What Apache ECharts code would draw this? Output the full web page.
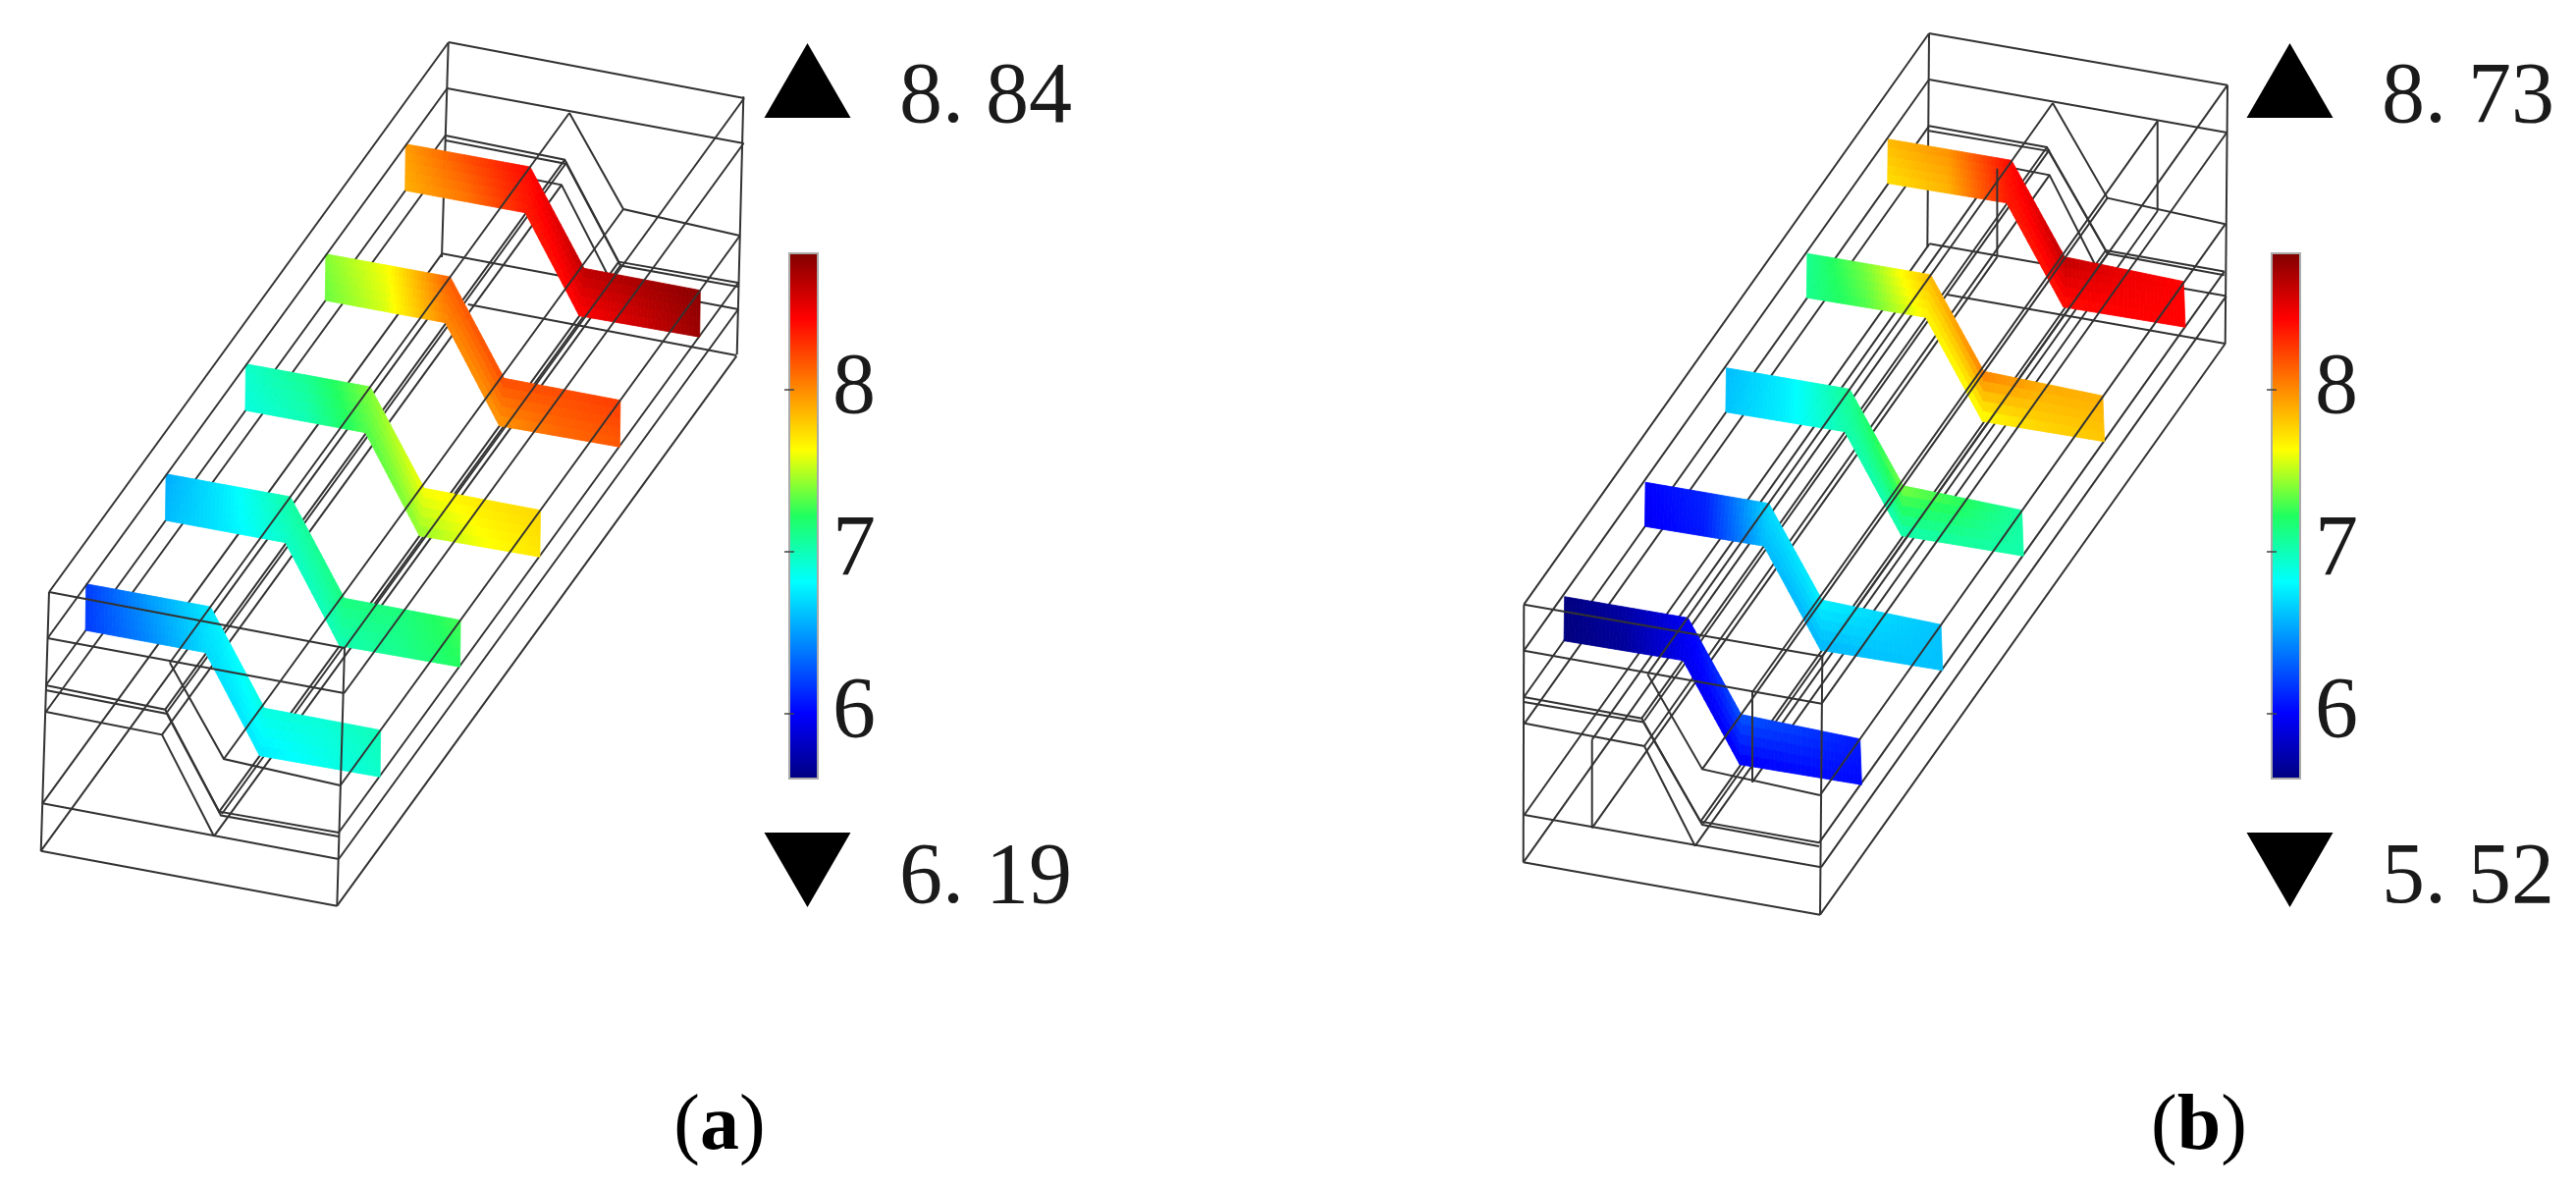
<!DOCTYPE html>
<html><head><meta charset="utf-8">
<style>html,body{margin:0;padding:0;background:#fff}#c{width:2624px;height:1209px}</style>
<script src="https://cdn.jsdelivr.net/npm/echarts@6/dist/echarts.min.js"></script>
</head><body><div id="c"></div>
<script>
// ---------- colour scale ----------
const scaleMin = 5.6, scaleMax = 8.84;
const colourTicks = [6, 7, 8];
const jetStops = [[0,'#00007f'],[0.125,'#0000ff'],[0.375,'#00ffff'],[0.5,'#20ff60'],[0.625,'#ffff00'],[0.875,'#ff0000'],[1,'#7f0000']];
// ---------- min / max readouts ----------
const readouts = [
  {x:916,y:101,text:'8. 84'},{x:916,y:896,text:'6. 19'},
  {x:2426,y:101,text:'8. 73'},{x:2426,y:896,text:'5. 52'}];
const upMarks = [[822.5,82],[2332.5,82]];
const downMarks = [[822.5,886],[2332.5,886]];
const captions = [{x:733,y:1149,letter:'a'},{x:2240,y:1149,letter:'b'}];
// ---------- ribbon outlines, panel a / b (picture units) ----------
const aRibbonTop = [[413.3,146.7],[540,170],[595,273.3],[713.3,295.7]];
const aRibbonBottom = [[412.7,194],[535,216.7],[590,321.7],[712.7,343.3]];
const aRibbonStep = [-81.4,112];
const bRibbonTop = [[1923.3,141.7],[2049,163.3],[2103.3,261.7],[2224.3,286.7]];
const bRibbonBottom = [[1922.7,186.7],[2044,206.7],[2101.7,312.7],[2226,333.3]];
const bRibbonStep = [-82.4,116.5];
// ---------- ribbon temperatures: top row, bottom row; back ribbon first ----------
const aRibbonValues = [
  [[7.94,8.2,8.42,8.65,8.72,8.8],[7.88,8.05,8.35,8.42,8.58,8.75]],
  [[7.4,7.62,8.15,8.2,8.2,8.25],[7.35,7.55,8.0,7.95,8.1,8.15]],
  [[6.95,7.1,7.4,7.62,7.7,7.75],[6.9,7.0,7.3,7.42,7.6,7.7]],
  [[6.55,6.77,7.05,7.15,7.15,7.28],[6.6,6.75,6.95,7.0,7.1,7.22]],
  [[6.19,6.5,6.75,6.9,6.92,7.0],[6.19,6.42,6.7,6.75,6.85,6.95]]];
const bRibbonValues = [
  [[7.85,7.98,8.42,8.65,8.5,8.43],[7.72,7.85,8.35,8.38,8.43,8.43]],
  [[7.1,7.4,7.85,8.05,7.9,7.88],[7.1,7.3,7.65,7.6,7.75,7.8]],
  [[6.6,6.77,7.1,7.4,7.25,7.05],[6.63,6.77,7.02,7.0,7.05,7.03]],
  [[6.0,6.12,6.7,6.78,6.7,6.62],[5.97,6.08,6.6,6.58,6.62,6.62]],
  [[5.6,5.72,5.98,6.28,6.2,6.08],[5.6,5.68,5.95,5.98,6.02,6.03]]];
// ---------- wireframe, panel a ----------
const aDepth = [407,-560];
const aUpperLoops = [
  [[50,603],[351,660]], [[48.5,650],[350.5,706]], [[173,675],[228,773],[346.7,800]]];
const aUpperPosts = [[[351,660],[343.3,922.7]],[[757.3,98.3],[750.7,361]],[[50,603],[41.7,867]]];
const aUpperRails = [[50,603],[48.5,650],[173,675],[228,773],[346.7,800],[351,660],[350.5,706]];
const aLowerLoops = [
  [[46.7,698],[168.3,722.7],[223.3,826.7],[345,848]],
  [[46.7,703],[170,727],[225,830.5],[345,852]],
  [[46.7,725],[165,748.3],[218,851.7]],
  [[43.3,818.3],[345,875]]];
const aFrontEdge = [[[41.7,866.7],[343.3,922.7]]];
const aBackEdge = [[[476.7,310],[750.3,362]],[[456.7,44],[450,262]]];
const aLowerRails = [[46.7,698],[168.3,722.7],[170.5,725],[223.3,826.7],[226,829],[345,848],[46.7,725],[165,748.3],[218,851.7],[43.3,818.3],[345,875],[41.7,866.7],[343.3,922.7]];
// ---------- wireframe, panel b ----------
const bDepth = [412.7,-581.7];
const bUpperLoops = [
  [[1552.3,615.7],[1856.3,668.4]], [[1552.3,662.7],[1855.6,716.7]], [[1678.3,686.7],[1734,783.4],[1854,810]]];
const bUpperPosts = [[[1856.3,668.4],[1854,931.7]],[[2269,86.7],[2266.7,350]],[[1552.3,615.7],[1551.7,878.3]],
  [[1621.7,753.3],[1621.7,843.3]],[[1785,705],[1785,796.7]],[[2034.4,171.6],[2034.4,261.6]],[[2197.7,123.3],[2197.7,215]]];
const bUpperRails = [[1552.3,615.7],[1552.3,662.7],[1678.3,686.7],[1734,783.4],[1854,810],[1856.3,668.4],[1855.6,716.7],[1785,705]];
const bLowerLoops = [
  [[1552.3,710],[1672.3,731.7],[1732.3,836.7],[1853,858.3]],
  [[1552.3,715],[1674,735.5],[1734,840],[1853,862]],
  [[1553,736.7],[1675,760],[1726.7,861.7]],
  [[1552.7,830],[1855,883.3]]];
const bFrontEdge = [[[1551.7,878.3],[1854,931.7]]];
const bBackEdge = [[[1983,300],[2266.7,350]],[[1965,34],[1963.3,252]]];
const bLowerRails = [[1552.3,710],[1672.3,731.7],[1675,734],[1732.3,836.7],[1735,839],[1853,858.3],[1553,736.7],[1675,760],[1726.7,861.7],[1552.7,830],[1855,883.3],[1551.7,878.3],[1854,931.7],
  [1621.7,753.3],[1621.7,843.3],[1785,796.7]];

// ---------- helpers ----------
function parse(h){return [1,3,5].map(i=>parseInt(h.substr(i,2),16));}
function jet(v){
  const t=Math.max(0,Math.min(1,(v-scaleMin)/(scaleMax-scaleMin)));
  for(let i=1;i<jetStops.length;i++){
    if(t<=jetStops[i][0]){
      const a=jetStops[i-1],b=jetStops[i],f=(t-a[0])/(b[0]-a[0]);
      const ca=parse(a[1]),cb=parse(b[1]);
      return 'rgb('+ca.map((c,k)=>Math.round(c+(cb[k]-c)*f)).join(',')+')';
    }
  }
  return jetStops[jetStops.length-1][1];
}
const mid=(p,q)=>[(p[0]+q[0])/2,(p[1]+q[1])/2];
const lerp=(p,q,f)=>[p[0]+(q[0]-p[0])*f,p[1]+(q[1]-p[1])*f];
function columns(line){return [line[0],mid(line[0],line[1]),line[1],line[2],mid(line[2],line[3]),line[3]];}

function buildWires(loops,posts,rails,depth){
  const out=[];
  loops.forEach(l=>{out.push(l);out.push(l.map(p=>[p[0]+depth[0],p[1]+depth[1]]));});
  posts.forEach(l=>out.push(l));
  rails.forEach(p=>out.push([p,[p[0]+depth[0],p[1]+depth[1]]]));
  return out;
}
const upperWires=[...buildWires(aUpperLoops,aUpperPosts,aUpperRails,aDepth),...buildWires(bUpperLoops,bUpperPosts,bUpperRails,bDepth)];
const lowerWires=[...buildWires(aLowerLoops,[],aLowerRails,aDepth),...aFrontEdge,...aBackEdge,
  ...buildWires(bLowerLoops,[],bLowerRails,bDepth),...bFrontEdge,...bBackEdge];

const ribbons=[];
function addRibbons(top,bottom,step,values){
  values.forEach((v,r)=>{
    const sh=l=>l.map(p=>[p[0]+step[0]*r,p[1]+step[1]*r]);
    ribbons.push({top:columns(sh(top)),bottom:columns(sh(bottom)),vTop:v[0],vBottom:v[1]});
  });
}
addRibbons(aRibbonTop,aRibbonBottom,aRibbonStep,aRibbonValues);
addRibbons(bRibbonTop,bRibbonBottom,bRibbonStep,bRibbonValues);

function wireSeries(list,z,colour,width){
  return {type:'custom',coordinateSystem:'cartesian2d',xAxisIndex:0,yAxisIndex:0,z,silent:true,clip:false,
    data:list.map((l,i)=>[l[0][0],l[0][1],i]),
    renderItem(p,api){
      const pts=list[p.dataIndex].map(q=>api.coord(q));
      return {type:'polyline',shape:{points:pts},style:{fill:null,stroke:colour,lineWidth:width}};
    }};
}
const ribbonSeries={type:'custom',coordinateSystem:'cartesian2d',xAxisIndex:0,yAxisIndex:0,z:3,silent:true,clip:false,
  data:ribbons.map((r,i)=>[r.top[0][0],r.top[0][1],i]),
  renderItem(p,api){
    const r=ribbons[p.dataIndex],kids=[],NX=16,NY=5;
    for(let c=0;c<5;c++){
      for(let i=0;i<NX;i++)for(let j=0;j<NY;j++){
        const u0=i/NX,u1=(i+1)/NX,w0=j/NY,w1=(j+1)/NY;
        const P=(u,w)=>lerp(lerp(r.top[c],r.top[c+1],u),lerp(r.bottom[c],r.bottom[c+1],u),w);
        const V=(u,w)=>{const a=r.vTop[c]+(r.vTop[c+1]-r.vTop[c])*u,b=r.vBottom[c]+(r.vBottom[c+1]-r.vBottom[c])*u;return a+(b-a)*w;};
        const col=jet(V((u0+u1)/2,(w0+w1)/2));
        kids.push({type:'polygon',shape:{points:[P(u0,w0),P(u1,w0),P(u1,w1),P(u0,w1)].map(q=>api.coord(q))},
          style:{fill:col,stroke:col,lineWidth:0.8}});
      }
    }
    return {type:'group',children:kids};
  }};

function barSeries(xi,yi){
  return {type:'custom',coordinateSystem:'cartesian2d',xAxisIndex:xi,yAxisIndex:yi,z:2,silent:true,
    data:[[0,scaleMin,1,scaleMax]],
    renderItem(p,api){
      const a=api.coord([api.value(0),api.value(3)]),b=api.coord([api.value(2),api.value(1)]);
      return {type:'rect',shape:{x:a[0],y:a[1],width:b[0]-a[0],height:b[1]-a[1]},
        style:{stroke:'#aaa',lineWidth:2,
          fill:new echarts.graphic.LinearGradient(0,1,0,0,jetStops.map(s=>({offset:s[0],color:s[1]})))}};
    }};
}
function barAxisY(grid,pos,labels){
  return {type:'value',gridIndex:grid,position:pos,min:scaleMin,max:scaleMax,splitLine:{show:false},axisLine:{show:false},z:6,
    axisTick:{show:true,inside:true,length:5,lineStyle:{color:'#444',width:1.5},customValues:colourTicks},
    axisLabel:labels?{show:true,margin:15,padding:[10,0,0,0],fontFamily:'Liberation Serif',fontSize:88,color:'#1a1a1a',customValues:colourTicks,formatter:v=>String(v)}:{show:false}};
}
const labelSeries={type:'scatter',xAxisIndex:0,yAxisIndex:0,z:5,silent:true,symbolSize:0,itemStyle:{opacity:1},
  data:readouts.map(r=>({value:[r.x,r.y],label:{show:true,position:'right',distance:0,formatter:r.text,fontFamily:'Liberation Serif',fontSize:88,color:'#1a1a1a'}}))};
const captionSeries={type:'scatter',xAxisIndex:0,yAxisIndex:0,z:5,silent:true,symbolSize:0,itemStyle:{opacity:1},
  data:captions.map(c=>({value:[c.x,c.y],label:{show:true,position:'inside',formatter:'{r|(}{b|'+c.letter+'}{r|)}',
    rich:{r:{fontFamily:'Liberation Serif',fontSize:80,color:'#000'},b:{fontFamily:'Liberation Serif',fontSize:80,fontWeight:'bold',color:'#000'}}}}))};
const upSeries={type:'scatter',xAxisIndex:0,yAxisIndex:0,z:5,silent:true,symbol:'triangle',symbolSize:[88,76],itemStyle:{color:'#000',opacity:1},data:upMarks};
const downSeries={type:'scatter',xAxisIndex:0,yAxisIndex:0,z:5,silent:true,symbol:'triangle',symbolRotate:180,symbolSize:[88,76],itemStyle:{color:'#000',opacity:1},data:downMarks};

const chart=echarts.init(document.getElementById('c'),null,{renderer:'canvas'});
chart.setOption({
  animation:false,backgroundColor:'#fff',
  grid:[{left:0,top:0,width:2624,height:1209},{left:804,top:258,width:29,height:535},{left:2314,top:258,width:29,height:535}],
  xAxis:[{type:'value',gridIndex:0,min:0,max:2624,show:false},
         {type:'value',gridIndex:1,min:0,max:1,show:false},
         {type:'value',gridIndex:2,min:0,max:1,show:false}],
  yAxis:[{type:'value',gridIndex:0,min:0,max:1209,inverse:true,show:false},
         barAxisY(1,'right',true),barAxisY(1,'left',false),
         barAxisY(2,'right',true),barAxisY(2,'left',false)],
  series:[wireSeries(lowerWires,1,'#333',2),ribbonSeries,wireSeries(upperWires,4,'#333',2),
    barSeries(1,1),barSeries(2,3),labelSeries,captionSeries,upSeries,downSeries]
});
</script></body></html>
